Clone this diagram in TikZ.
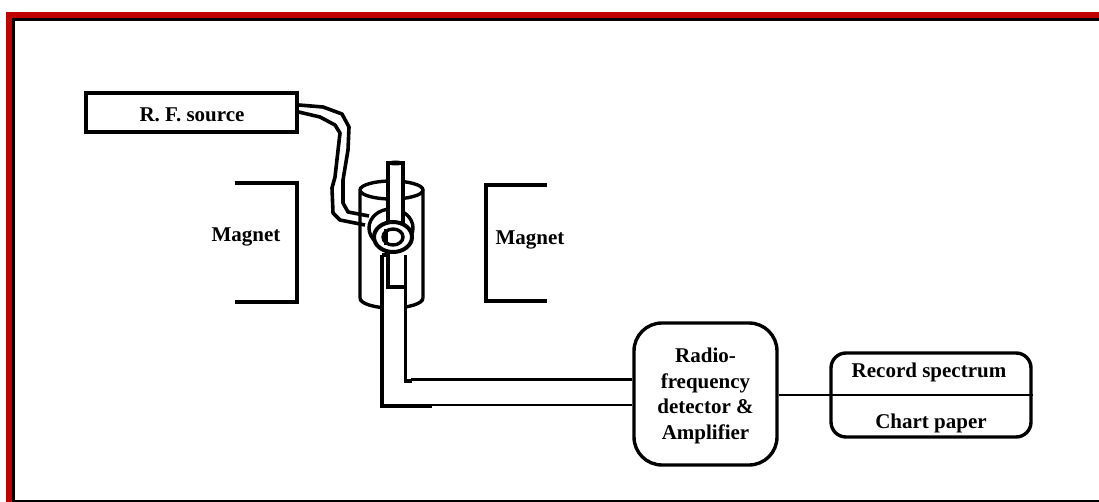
\documentclass[tikz,border=0pt]{standalone}
\usepackage{fontspec}
\setmainfont{Liberation Serif}
\usetikzlibrary{positioning}
\definecolor{framered}{RGB}{192,0,0}

\begin{document}
\begin{tikzpicture}[x=1pt,y=-1pt,line width=3.4pt,
  main box/.style={draw,align=center,inner sep=0pt,font=\fontsize{21}{25.5}\selectfont\bfseries},
  main text/.style={inner sep=0pt,font=\fontsize{21}{25.5}\selectfont\bfseries},
  wire/.style={line width=3.6pt,line join=round}]

  \useasboundingbox (0,0) rectangle (1099,502);

  % frame
  \fill[framered] (6,12) rectangle (1099,502);
  \fill[black] (12,18) rectangle (1099,502);
  \fill[white] (15,21) rectangle (1099,500);

  \node[draw,minimum width=211pt,minimum height=39pt] (rf) at (191.5,112.5) {};
  \node[main text] (rflabel) at (192,114.5) {R. F. source};
  \node[draw,minimum width=143pt,minimum height=142pt,rounded corners=28pt] (det) at (705.5,394) {};
  \node[main text,align=center] (detlabel) at (705.5,396) {Radio-\\frequency\\detector \&\\Amplifier};
  \node[draw,minimum width=200pt,minimum height=84pt,rounded corners=15pt,inner sep=0pt] (rec) at (931,395) {};
  \node[main text] (rectop) at (929,372) {Record spectrum};
  \node[main text] (recbot) at (931,423) {Chart paper};

  \node[main text] (magl) at (246,237) {Magnet};
  \node[main text] (magr) at (530,240) {Magnet};
  \draw (235,183) -- (297,183) -- (297,302) -- (235,302);
  \draw (547,185) -- (486,185) -- (486,301) -- (547,301);

  % sample holder
  \draw (360,298) -- (360,190) arc[start angle=180,end angle=-180,x radius=31.5pt,y radius=9pt] (423,190) -- (423,298);
  \draw (360,298) arc[start angle=180,end angle=360,x radius=31.5pt,y radius=10pt];
  \draw[fill=white] (391,228) ellipse[x radius=22pt,y radius=19pt];
  \draw[fill=white] (388,232) -- (388,163) -- (403,163) -- (403,232);
  \fill (395.5,163) ellipse[x radius=7.5pt,y radius=2.5pt];

  \coordinate (coil) at (393,237);
  \coordinate (wa) at (369,216);
  \coordinate (wb) at (365,225);

  \draw[wire] (rf.east |- 0,105) -- (323,107) -- (342,114) -- (349,127) -- (348,150) -- (343,180) -- (343,203) -- (348,212) -- (wa);
  \draw[wire] (rf.east |- 0,112) -- (320,117) -- (335,125) -- (340,133) -- (335,177) -- (332,188) -- (333,213) -- (340,220) -- (wb);

  \draw[fill=white,line width=4pt] (coil) ellipse[x radius=19pt,y radius=15pt];
  \draw (coil) ellipse[x radius=10pt,y radius=8pt];
  \draw (386,229) -- (386,245);

  % detector tube
  \coordinate (tubea) at (405.5,381);
  \coordinate (tubeb) at (382,406);
  \fill[white] (382,255) rectangle (406,406);
  \draw (382,255) -- (tubeb) -- (432,406);
  \draw (382,255) -- (390,255);
  \draw (405.5,255) -- (tubea) -- (412,381);
  \draw (388,255) -- (388,287) -- (404,287);
  \draw[line width=2.8pt] (411,379.5) -- (411,379.5 -| det.west);
  \draw[line width=2.8pt] (415,405) -- (415,405 -| det.west);

  \draw[line width=1.5pt] (det.east |- rec.east) -- (rec.east);

\end{tikzpicture}
\end{document}
